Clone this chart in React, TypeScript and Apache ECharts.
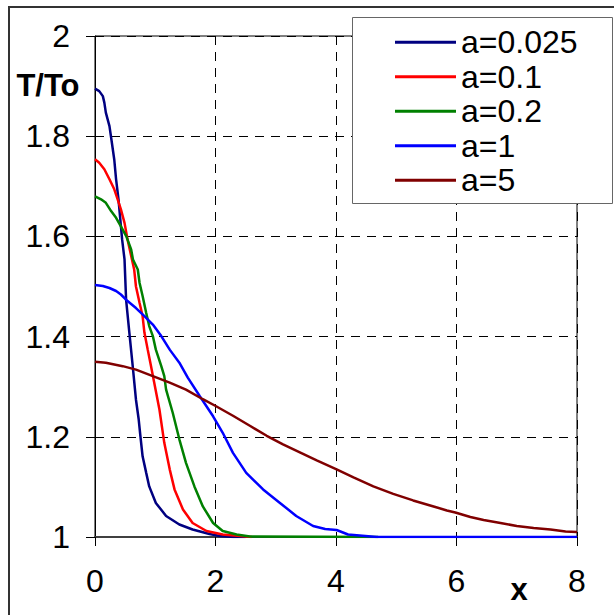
import React, { useEffect, useRef } from "react";
import * as echarts from "echarts";

const seriesNames = ["a=0.025", "a=0.1", "a=0.2", "a=1", "a=5"];
const seriesColors = ["#000080", "#FF0000", "#008000", "#0000FF", "#800000"];

const xTicks = [0, 2, 4, 6, 8];
const yTicks = [1, 1.2, 1.4, 1.6, 1.8, 2];

const a0025: [number, number][] = [
  [0, 1.895], [0.07, 1.89], [0.13, 1.88], [0.155, 1.867], [0.18, 1.847], [0.24, 1.82],
  [0.28, 1.787], [0.32, 1.753], [0.35, 1.714], [0.39, 1.674], [0.42, 1.634], [0.45, 1.594],
  [0.49, 1.554], [0.516, 1.474], [0.57, 1.408], [0.626, 1.341], [0.68, 1.274], [0.725, 1.235],
  [0.754, 1.201], [0.79, 1.161], [0.85, 1.128], [0.9, 1.101], [1.01, 1.068], [1.18, 1.042],
  [1.4, 1.025], [1.62, 1.015], [1.9, 1.006], [2.07, 1.002], [2.3, 1.0], [2.5, 1.0],
];
const a01: [number, number][] = [
  [0, 1.754], [0.07, 1.747], [0.155, 1.734], [0.24, 1.714], [0.32, 1.694], [0.376, 1.674],
  [0.43, 1.654], [0.49, 1.627], [0.54, 1.594], [0.65, 1.534], [0.68, 1.5], [0.74, 1.467],
  [0.79, 1.441], [0.82, 1.408], [0.875, 1.374], [0.93, 1.341], [0.98, 1.31], [1.07, 1.254],
  [1.15, 1.188], [1.24, 1.135], [1.32, 1.095], [1.46, 1.055], [1.62, 1.028], [1.85, 1.012],
  [2.12, 1.005], [2.51, 1.001], [2.6, 1.0],
];
const a02: [number, number][] = [
  [0, 1.68], [0.1, 1.674], [0.18, 1.667], [0.27, 1.65], [0.35, 1.637], [0.43, 1.62],
  [0.52, 1.6], [0.6, 1.574], [0.63, 1.554], [0.71, 1.534], [0.74, 1.507], [0.79, 1.481],
  [0.85, 1.447], [0.9, 1.421], [0.96, 1.401], [1.01, 1.374], [1.1, 1.341], [1.15, 1.321],
  [1.18, 1.294], [1.29, 1.248], [1.4, 1.195], [1.51, 1.148], [1.65, 1.101], [1.79, 1.061],
  [1.96, 1.028], [2.12, 1.012], [2.35, 1.005], [2.57, 1.001], [4.7, 1.0],
];
const a1: [number, number][] = [
  [0, 1.503], [0.13, 1.501], [0.24, 1.497], [0.35, 1.491], [0.43, 1.484], [0.54, 1.471],
  [0.68, 1.457], [0.82, 1.441], [0.96, 1.424], [1.1, 1.401], [1.24, 1.374], [1.4, 1.348],
  [1.54, 1.318], [1.74, 1.281], [1.96, 1.241], [2.12, 1.208], [2.29, 1.168], [2.51, 1.128],
  [2.79, 1.095], [3.07, 1.068], [3.34, 1.042], [3.62, 1.022], [3.82, 1.016], [4.01, 1.014],
  [4.2, 1.005], [4.68, 1.0], [8, 1.0],
];
const a5: [number, number][] = [
  [0, 1.35], [0.18, 1.348], [0.46, 1.341], [0.68, 1.334], [0.96, 1.321], [1.24, 1.308],
  [1.51, 1.294], [1.79, 1.275], [2.01, 1.261], [2.29, 1.242], [2.57, 1.222], [2.85, 1.202],
  [3.12, 1.185], [3.4, 1.169], [3.68, 1.153], [4.01, 1.135], [4.29, 1.119], [4.62, 1.101],
  [4.95, 1.086], [5.28, 1.073], [5.62, 1.061], [5.84, 1.053], [5.98, 1.049], [6.23, 1.04],
  [6.45, 1.034], [6.73, 1.028], [7.0, 1.022], [7.28, 1.018], [7.56, 1.015], [7.81, 1.011],
  [8.0, 1.01],
];

const seriesData = [a0025, a01, a02, a1, a5];

const FONT = "'Liberation Sans', Arial, sans-serif";

export default function App() {
  const ref = useRef<HTMLDivElement>(null);
  useEffect(() => {
    if (!ref.current) return;
    const chart = echarts.init(ref.current, null, { renderer: "svg" });
    const dashed = { type: [9, 7] as any, color: "#000", width: 1 };
    chart.setOption({
      animation: false,
      backgroundColor: "#fff",
      textStyle: { fontFamily: FONT },
      grid: {
        left: 95,
        top: 36,
        right: 37,
        bottom: 78,
        show: true,
        borderColor: "#000",
        borderWidth: 1,
        backgroundColor: "transparent",
      },
      xAxis: {
        type: "value",
        min: xTicks[0],
        max: xTicks[xTicks.length - 1],
        interval: 2,
        axisLine: { show: true, onZero: false, lineStyle: { color: "#404040", width: 2 } },
        axisTick: { show: true, length: 9, lineStyle: { color: "#000", width: 1 } },
        axisLabel: { fontSize: 32, color: "#000", margin: 28, fontFamily: FONT },
        splitLine: { show: true, lineStyle: dashed },
      },
      yAxis: {
        type: "value",
        min: yTicks[0],
        max: yTicks[yTicks.length - 1],
        interval: 0.2,
        axisLine: { show: true, onZero: false, lineStyle: { color: "#000", width: 1 } },
        axisTick: { show: true, length: 9, lineStyle: { color: "#000", width: 1 } },
        axisLabel: {
          fontSize: 32,
          color: "#000",
          margin: 25,
          fontFamily: FONT,
          formatter: (v: number) => String(Math.round(v * 10) / 10),
        },
        splitLine: { show: true, lineStyle: dashed },
      },
      legend: {
        show: true,
        orient: "vertical",
        left: 395,
        top: 25,
        padding: 0,
        itemGap: 0,
        itemWidth: 61,
        itemHeight: 3,
        icon: "rect",
        z: 6,
        data: seriesNames,
        textStyle: { fontSize: 32, color: "#000", fontFamily: FONT, lineHeight: 34.5 },
      },
      graphic: [
        {
          type: "rect",
          z: 5,
          shape: { x: 352.5, y: 17.5, width: 260, height: 186 },
          style: { fill: "#fff", stroke: "#666", lineWidth: 1 },
        },
        {
          type: "rect",
          z: 10,
          silent: true,
          shape: { x: 9, y: 7, width: 800, height: 800 },
          style: { fill: "none", stroke: "#333", lineWidth: 2 },
        },
        {
          type: "text",
          z: 10,
          x: 48,
          y: 85,
          style: {
            text: "T/To",
            font: `bold 31px ${FONT}`,
            fill: "#000",
            align: "center",
            verticalAlign: "middle",
          },
        },
        {
          type: "text",
          z: 10,
          x: 519,
          y: 589,
          style: {
            text: "x",
            font: `bold 31px ${FONT}`,
            fill: "#000",
            align: "center",
            verticalAlign: "middle",
          },
        },
      ],
      series: seriesData.map((d, i) => ({
        name: seriesNames[i],
        type: "line",
        data: d,
        showSymbol: false,
        symbol: "none",
        color: seriesColors[i],
        lineStyle: { color: seriesColors[i], width: 2.5 },
        z: 2 + i * 0.01,
      })),
    });
    return () => chart.dispose();
  }, []);
  return (
    <div
      ref={ref}
      style={{ position: "fixed", left: 0, top: 0, width: 614, height: 615 }}
    />
  );
}
